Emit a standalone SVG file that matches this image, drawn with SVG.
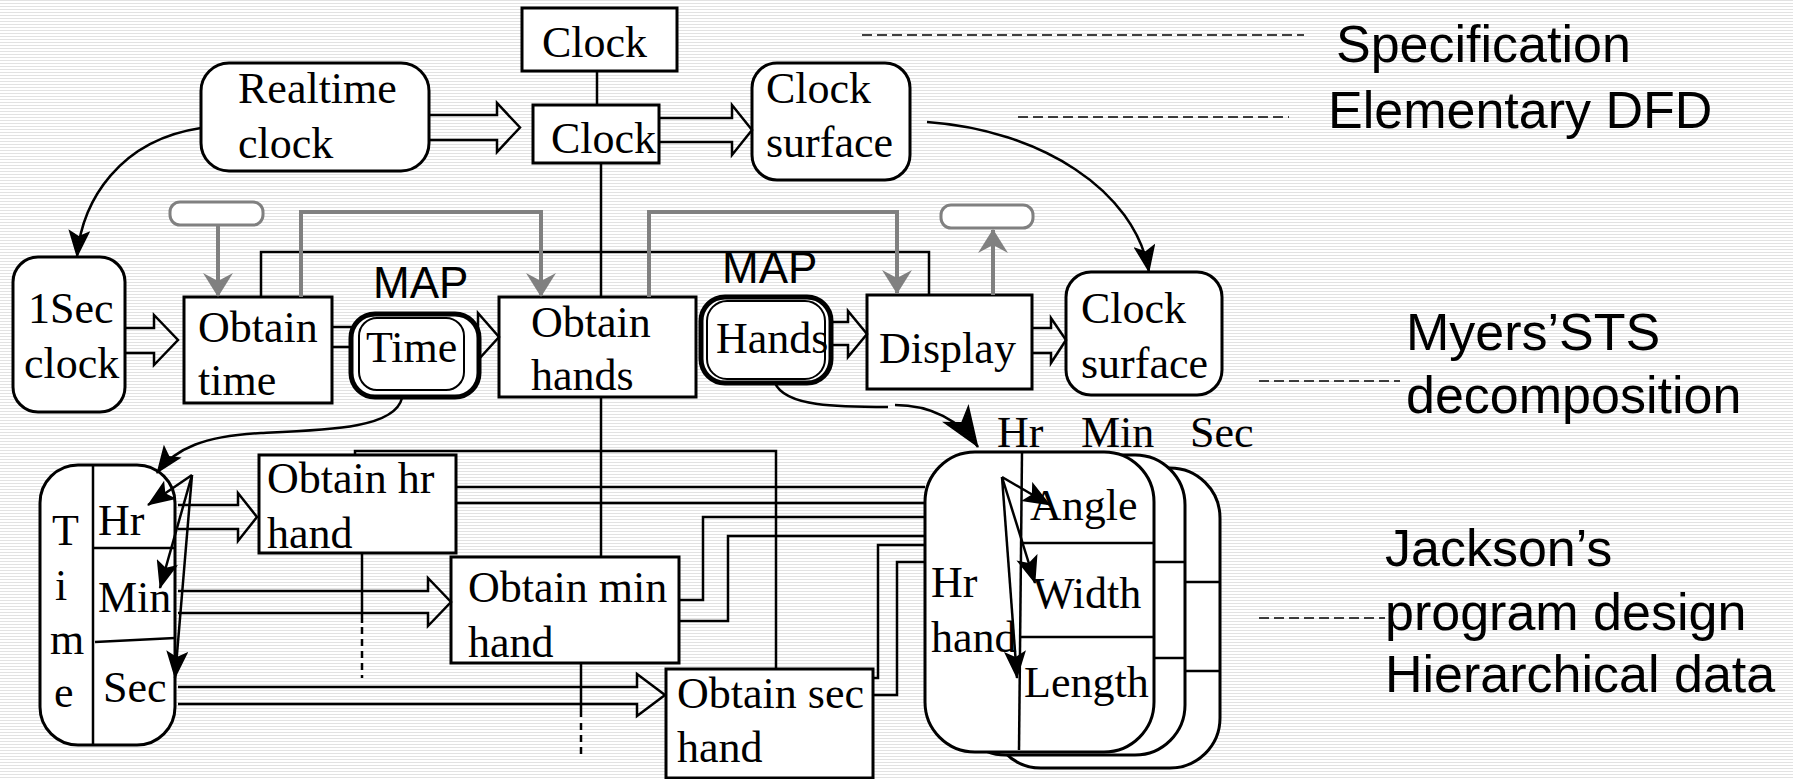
<svg xmlns="http://www.w3.org/2000/svg" width="1793" height="779" viewBox="0 0 1793 779">
  <defs>
    <pattern id="stripes" width="8" height="3" patternUnits="userSpaceOnUse">
      <rect width="8" height="3" fill="#ffffff"/>
      <rect width="8" height="1" fill="#e2e2e2"/>
    </pattern>
    <marker id="ah" viewBox="0 0 28 22" markerWidth="28" markerHeight="22" refX="27" refY="11" orient="auto" markerUnits="userSpaceOnUse">
      <path d="M0,0 L28,11 L0,22 L6,11 z" fill="#000"/>
    </marker>
    <marker id="ahBig" viewBox="0 0 42 32" markerWidth="42" markerHeight="32" refX="41" refY="16" orient="auto" markerUnits="userSpaceOnUse">
      <path d="M0,0 L42,16 L0,32 L11,16 z" fill="#000"/>
    </marker>
    <marker id="ahGrey" viewBox="0 0 24 30" markerWidth="24" markerHeight="30" refX="23" refY="15" orient="auto" markerUnits="userSpaceOnUse">
      <path d="M0,0 L24,15 L0,30 L8,15 z" fill="#808080"/>
    </marker>
    <style>
      .box { fill: #ffffff; stroke: #000; stroke-width: 3; }
      .store { fill: #ffffff; stroke: #000; stroke-width: 5; }
      .inner { fill: none; stroke: #000; stroke-width: 2; }
      .tag { fill: #ffffff; stroke: #808080; stroke-width: 3; }
      .div { fill: none; stroke: #000; stroke-width: 2.5; }
      .ln { fill: none; stroke: #000; stroke-width: 2.5; }
      .dfd { fill: none; stroke: #000; stroke-width: 2.5; stroke-linejoin: miter; }
      .grey { fill: none; stroke: #808080; stroke-width: 4; }
      .dash { fill: none; stroke: #000; stroke-width: 1.5; stroke-dasharray: 10 5; }
      .arr { marker-end: url(#ah); }
      .serif { font-family: "Liberation Serif", "Times New Roman", serif; font-size: 44px; fill: #000; }
      .sans { font-family: "Liberation Sans", Arial, sans-serif; font-size: 52px; fill: #000; }
      .map { font-family: "Liberation Sans", Arial, sans-serif; font-size: 44px; fill: #000; }
    </style>
  </defs>

  <rect width="1793" height="779" fill="url(#stripes)"/>

  <!-- level captions with leader dashes -->
  <g id="captions">
    <line class="dash" x1="862" y1="35" x2="1304" y2="35"/>
    <text class="sans" x="1336" y="62">Specification</text>
    <line class="dash" x1="1018" y1="117" x2="1289" y2="117"/>
    <text class="sans" x="1328" y="128">Elementary DFD</text>
    <line class="dash" x1="1259" y1="381" x2="1400" y2="381"/>
    <text class="sans" x="1406" y="350">Myers’STS</text>
    <text class="sans" x="1406" y="413">decomposition</text>
    <line class="dash" x1="1259" y1="618" x2="1385" y2="618"/>
    <text class="sans" x="1385" y="566">Jackson’s</text>
    <text class="sans" x="1385" y="630">program design</text>
    <text class="sans" x="1385" y="692">Hierarchical data</text>
    <text class="map" x="373" y="298">MAP</text>
    <text class="map" x="722" y="283">MAP</text>
  </g>

  <!-- specification level -->
  <g id="clock-spec">
    <rect class="box" x="522" y="8" width="155" height="63"/>
    <text class="serif" x="542" y="57">Clock</text>
  </g>
  <g id="realtime-clock">
    <rect class="box" x="201" y="63" width="228" height="108" rx="28"/>
    <text class="serif" x="238" y="103">Realtime</text>
    <text class="serif" x="238" y="158">clock</text>
  </g>
  <g id="clock-process">
    <rect class="box" x="533" y="105" width="126" height="58"/>
    <text class="serif" x="551" y="153">Clock</text>
  </g>
  <g id="clock-surface-top">
    <rect class="box" x="752" y="63" width="158" height="117" rx="25"/>
    <text class="serif" x="766" y="103">Clock</text>
    <text class="serif" x="766" y="157">surface</text>
  </g>

  <!-- STS level -->
  <g id="sec-clock">
    <rect class="box" x="13" y="257" width="112" height="155" rx="25"/>
    <text class="serif" x="28" y="323">1Sec</text>
    <text class="serif" x="24" y="378">clock</text>
  </g>
  <g id="tag-left">
    <rect class="tag" x="170" y="202" width="93" height="23" rx="10"/>
  </g>
  <g id="tag-right">
    <rect class="tag" x="941" y="205" width="92" height="23" rx="10"/>
  </g>
  <g id="obtain-time">
    <rect class="box" x="184" y="297" width="148" height="106"/>
    <text class="serif" x="198" y="342">Obtain</text>
    <text class="serif" x="198" y="395">time</text>
  </g>
  <g id="obtain-hands">
    <rect class="box" x="499" y="297" width="197" height="100"/>
    <text class="serif" x="531" y="337">Obtain</text>
    <text class="serif" x="531" y="390">hands</text>
  </g>
  <g id="display">
    <rect class="box" x="867" y="295" width="165" height="94"/>
    <text class="serif" x="879" y="363">Display</text>
  </g>
  <g id="clock-surface">
    <rect class="box" x="1066" y="272" width="156" height="123" rx="25"/>
    <text class="serif" x="1081" y="323">Clock</text>
    <text class="serif" x="1081" y="378">surface</text>
  </g>

  <!-- Jackson level -->
  <g id="time-record">
    <rect class="box" x="40" y="465" width="135" height="280" rx="38"/>
    <line class="div" x1="93" y1="465" x2="93" y2="745"/>
    <line class="div" x1="93" y1="548" x2="174" y2="548"/>
    <line class="div" x1="95" y1="642" x2="175" y2="638"/>
    <text class="serif" x="52" y="545">T</text>
    <text class="serif" x="55" y="600">i</text>
    <text class="serif" x="50" y="654">m</text>
    <text class="serif" x="54" y="707">e</text>
    <text class="serif" x="98" y="535">Hr</text>
    <text class="serif" x="98" y="612">Min</text>
    <text class="serif" x="103" y="702">Sec</text>
  </g>
  <g id="obtain-hr-hand">
    <rect class="box" x="259" y="455" width="197" height="98"/>
    <text class="serif" x="267" y="493">Obtain hr</text>
    <text class="serif" x="267" y="548">hand</text>
  </g>
  <g id="obtain-min-hand">
    <rect class="box" x="451" y="557" width="228" height="106"/>
    <text class="serif" x="468" y="602">Obtain min</text>
    <text class="serif" x="468" y="657">hand</text>
  </g>
  <g id="obtain-sec-hand">
    <rect class="box" x="666" y="669" width="207" height="109"/>
    <text class="serif" x="677" y="708">Obtain sec</text>
    <text class="serif" x="677" y="762">hand</text>
  </g>
  <g id="hand-records">
    <rect class="box" x="991" y="468" width="229" height="300" rx="50"/>
    <line class="div" x1="1185" y1="582" x2="1220" y2="582"/>
    <line class="div" x1="1185" y1="671" x2="1220" y2="671"/>
    <rect class="box" x="956" y="455" width="229" height="300" rx="50"/>
    <line class="div" x1="1154" y1="562" x2="1185" y2="562"/>
    <line class="div" x1="1154" y1="658" x2="1185" y2="658"/>
    <rect class="box" x="925" y="452" width="229" height="300" rx="50"/>
    <line class="div" x1="1022" y1="452" x2="1019" y2="750"/>
    <line class="div" x1="1021" y1="543" x2="1154" y2="543"/>
    <line class="div" x1="1020" y1="637" x2="1154" y2="637"/>
    <text class="serif" x="1030" y="520">Angle</text>
    <text class="serif" x="1033" y="608">Width</text>
    <text class="serif" x="1024" y="697">Length</text>
    <text class="serif" x="931" y="597">Hr</text>
    <text class="serif" x="931" y="652">hand</text>
    <text class="serif" x="997" y="447">Hr</text>
    <text class="serif" x="1081" y="447">Min</text>
    <text class="serif" x="1190" y="447">Sec</text>
  </g>

  <g id="connectors">
    <!-- control structure lines -->
    <line class="ln" x1="597" y1="71" x2="597" y2="105"/>
    <line class="ln" x1="601" y1="163" x2="601" y2="297"/>
    <line class="ln" x1="601" y1="397" x2="601" y2="557"/>
    <path class="ln" d="M261,297 V252 H929 V295"/>
    <path class="ln" d="M355,455 V451 H776 V669"/>
    <line class="ln" x1="362" y1="553" x2="362" y2="623"/>
    <line class="ln" x1="362" y1="627" x2="362" y2="678" stroke-dasharray="7 5"/>
    <line class="ln" x1="581" y1="663" x2="581" y2="717"/>
    <line class="ln" x1="581" y1="723" x2="581" y2="758" stroke-dasharray="7 5"/>

    <!-- couples -->
    <line class="grey" x1="218" y1="225" x2="218" y2="296" marker-end="url(#ahGrey)"/>
    <path class="grey" d="M301,297 V212 H541 V296" marker-end="url(#ahGrey)"/>
    <path class="grey" d="M649,297 V212 H897 V293" marker-end="url(#ahGrey)"/>
    <line class="grey" x1="993" y1="295" x2="993" y2="230" marker-end="url(#ahGrey)"/>

    <!-- data flows -->
    <path class="dfd" d="M430,115 H497 V103 L520,127.5 L497,152 V140 H430"/>
    <path class="dfd" d="M660,118 H732 V105 L752,130 L732,155 V142 H660"/>
    <path class="dfd" d="M125,328 H154 V315 L178,340 L154,365 V353 H125"/>
    <path class="dfd" d="M332,327 H478 V313 L499,337 L478,360 V347 H332"/>
    <path class="dfd" d="M831,322 H848 V311 L867,334 L848,357 V345 H831"/>
    <path class="dfd" d="M1032,328 H1051 V318 L1066,340 L1051,363 V353 H1032"/>
    <path class="dfd" d="M178,505 H238 V493 L257,517 L238,541 V529 H178"/>
    <path class="dfd" d="M178,591 H428 V578 L451,602 L428,626 V613 H178"/>
    <path class="dfd" d="M178,687 H637 V674 L665,695 L637,716 V704 H178"/>

    <!-- hand outputs -->
    <line class="ln" x1="456" y1="487" x2="925" y2="487"/>
    <line class="ln" x1="456" y1="503" x2="925" y2="503"/>
    <path class="ln" d="M679,600 H703 V517 H925"/>
    <path class="ln" d="M679,621 H728 V536 H925"/>
    <path class="ln" d="M873,678 H878 V545 H925"/>
    <path class="ln" d="M873,695 H897 V562 H925"/>

    <!-- curved flows -->
    <path class="ln arr" d="M201,128 C120,140 82,200 77,257"/>
    <path class="ln arr" d="M927,122 C1040,130 1135,190 1149,272"/>
    <path class="ln arr" d="M402,398 C395,428 330,430 261,433 C205,436 175,448 157,473"/>
    <path class="ln" d="M775,383 C785,407 840,407 888,407"/>
    <path class="ln" d="M895,405 C930,405 960,420 978,447" marker-end="url(#ahBig)"/>

    <!-- record component access -->
    <line class="ln arr" x1="192" y1="475" x2="148" y2="505"/>
    <line class="ln arr" x1="192" y1="475" x2="160" y2="588"/>
    <line class="ln arr" x1="192" y1="475" x2="175" y2="678"/>
    <line class="ln arr" x1="1002" y1="477" x2="1050" y2="505"/>
    <line class="ln arr" x1="1002" y1="477" x2="1035" y2="583"/>
    <line class="ln arr" x1="1002" y1="477" x2="1017" y2="678"/>
  </g>

  <!-- data stores drawn over the flow they sit on -->
  <g id="time-store">
    <rect class="store" x="351" y="314" width="128" height="83" rx="24"/>
    <rect class="inner" x="359" y="318" width="105" height="72" rx="18"/>
    <text class="serif" x="366" y="362">Time</text>
  </g>
  <g id="hands-store">
    <rect class="store" x="701" y="297" width="130" height="86" rx="24"/>
    <rect class="inner" x="707" y="301" width="118" height="78" rx="20"/>
    <text class="serif" x="716" y="353">Hands</text>
  </g>
</svg>
